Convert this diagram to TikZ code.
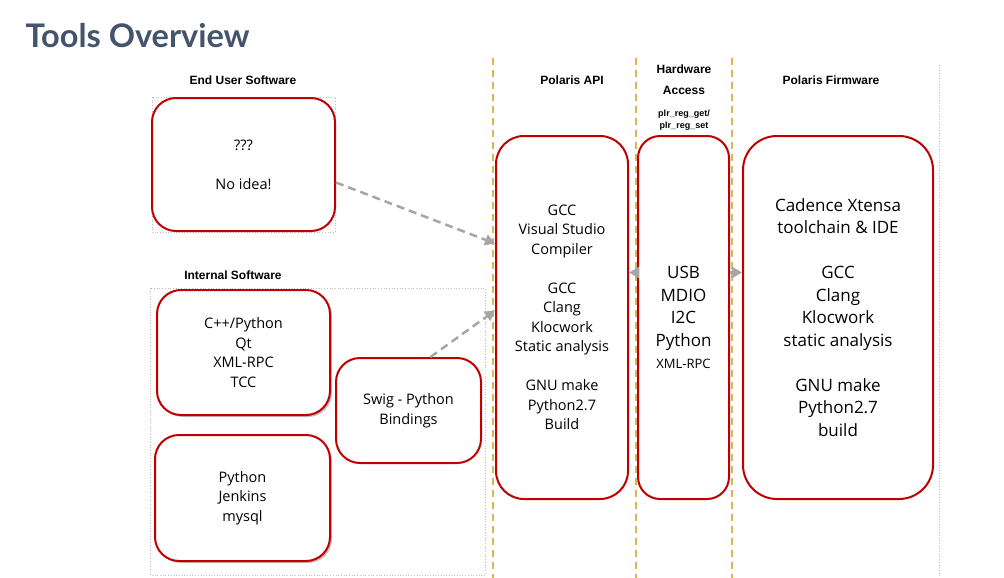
\documentclass[tikz,border=0pt]{standalone}
\usepackage{fontspec}
\setmainfont{Open Sans}
\newfontfamily\headfont{Liberation Sans}
\newfontfamily\titlefont{Lato}
\usetikzlibrary{positioning,arrows.meta,shadows}
\definecolor{boxred}{HTML}{C00000}
\definecolor{titleblue}{HTML}{44546A}
\definecolor{lanegold}{HTML}{DDB650}
\definecolor{linkgray}{HTML}{A6A6A6}

\begin{document}
\begin{tikzpicture}[x=1pt,y=-1pt,
    tool/.style={draw=boxred,line width=2pt,rounded corners=24pt,align=center,inner sep=0pt,
      font=\fontsize{14.5}{19.5}\selectfont},
    big/.style={font=\fontsize{17}{22.5}\selectfont},
    head/.style={font=\headfont\bfseries\fontsize{12}{21}\selectfont,align=center},
    lane/.style={draw=lanegold,line width=2pt,dash pattern=on 7pt off 5pt},
    link/.style={draw=linkgray,line width=2.5pt,dash pattern=on 8pt off 5pt,
      -{Triangle[length=10pt,width=11pt]}},
    group/.style={draw=black!25,dotted,line width=0.7pt},
    lift/.style={drop shadow={shadow xshift=2pt,shadow yshift=-2pt,opacity=0.25,fill=black}}]
    \useasboundingbox (0,0) rectangle (1004,578);

    \node[anchor=base west,text=titleblue,font=\titlefont\bfseries\fontsize{32.5}{38}\selectfont] (title) at (22,48) {Tools Overview};

    \foreach \x in {493,636,732}
        \draw[lane] (\x,58) -- (\x,578);
    \draw[group] (939,65) -- (939,578);
    \draw[group] (152,97) rectangle (335,232);
    \draw[group] (150,288) rectangle (485,575);

    \node[head] (endhead) at (243,80) {End User Software};
    \node[head] (inthead) at (233,275) {Internal Software};
    \node[head] (apihead) at (572,80) {Polaris API};
    \node[head] (hwhead) at (684,80) {Hardware\\Access};
    \node[head,font=\headfont\bfseries\fontsize{9}{12}\selectfont] (reghead) at (684,120) {plr\_reg\_get/\\plr\_reg\_set};
    \node[head] (fwhead) at (831,80) {Polaris Firmware};

    \node[tool,minimum width=183pt,minimum height=133pt] (noidea) at (243.5,164.5) {???\\[\baselineskip]No idea!};
    \node[tool,lift,fill=white,minimum width=173pt,minimum height=125pt] (cpp) at (243.5,352.5) {C++/Python\\Qt\\XML-RPC\\TCC};
    \node[tool,lift,fill=white,minimum width=175pt,minimum height=126pt] (pyj) at (242.5,498) {Python\\Jenkins\\mysql};
    \node[tool,minimum width=145pt,minimum height=105pt] (swig) at (408.5,410.5) {Swig - Python\\Bindings};
    \node[tool,rounded corners=28pt,minimum width=132pt,minimum height=363pt] (api) at (562,317.5)
        {GCC\\Visual Studio\\Compiler\\[\baselineskip]GCC\\Clang\\Klocwork\\Static analysis\\[\baselineskip]GNU make\\Python2.7\\Build};
    \node[tool,big,rounded corners=22pt,minimum width=91pt,minimum height=363pt] (hw) at (683.5,317.5)
        {USB\\MDIO\\I2C\\Python\\{\fontsize{13}{17}\selectfont XML-RPC}};
    \node[tool,big,rounded corners=34pt,minimum width=190pt,minimum height=363pt] (fw) at (838,317.5)
        {Cadence Xtensa\\toolchain \& IDE\\[22.5pt]GCC\\Clang\\Klocwork\\static analysis\\[22.5pt]GNU make\\Python2.7\\build};

    \draw[link] ([yshift=-18pt]noidea.east) -- ([yshift=74pt]api.west);
    \draw[link] ([xshift=22pt]swig.north) -- ([yshift=7pt]api.west);
    \draw[link] ([yshift=45pt]hw.west) -- ([yshift=45pt]api.east);
    \draw[link] ([yshift=45pt]hw.east) -- ([yshift=45pt]fw.west);
\end{tikzpicture}
\end{document}
